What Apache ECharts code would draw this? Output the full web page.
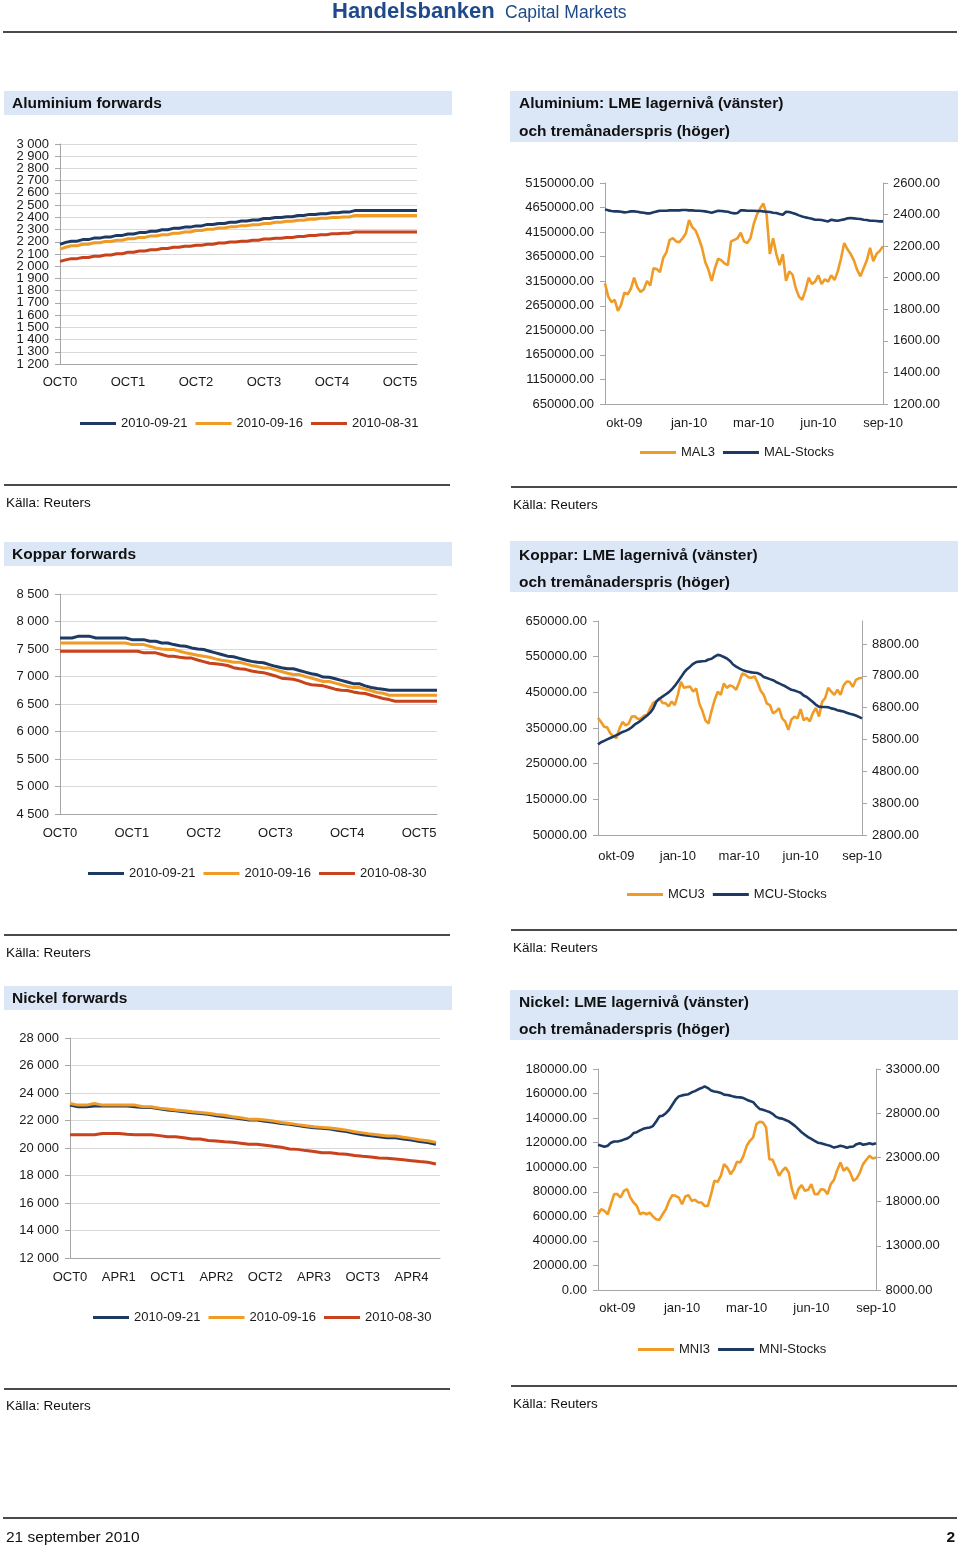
<!DOCTYPE html>
<html>
<head>
<meta charset="utf-8">
<script src="https://cdn.jsdelivr.net/npm/echarts@6/dist/echarts.min.js"></script>
<style>
html,body{margin:0;padding:0;background:#fff;}
#main{width:960px;height:1549px;}
</style>
</head>
<body>
<div id="main"></div>
<script>
// ---------------- DATA ----------------
const alFwdTicks = ['OCT0','OCT1','OCT2','OCT3','OCT4','OCT5'];
const alFwdYLabels = ['1 200','1 300','1 400','1 500','1 600','1 700','1 800','1 900','2 000','2 100','2 200','2 300','2 400','2 500','2 600','2 700','2 800','2 900','3 000'];
const alFwd0921 = [2178,2195,2205,2205,2218,2218,2230,2230,2240,2240,2252,2252,2264,2264,2275,2275,2286,2286,2298,2298,2310,2310,2320,2320,2330,2330,2342,2342,2350,2350,2360,2360,2370,2370,2378,2378,2390,2390,2398,2398,2405,2405,2415,2415,2424,2424,2430,2430,2438,2438,2443,2443,2455,2455,2455,2455,2455,2455,2455,2455,2455,2455,2455,2455];
const alFwd0916 = [2140,2155,2168,2168,2180,2180,2192,2192,2202,2202,2213,2213,2225,2225,2236,2236,2248,2248,2258,2258,2270,2270,2280,2280,2292,2292,2302,2302,2312,2312,2322,2322,2332,2332,2340,2340,2350,2350,2360,2360,2368,2368,2376,2376,2385,2385,2392,2392,2398,2398,2403,2403,2415,2415,2415,2415,2415,2415,2415,2415,2415,2415,2415,2415];
const alFwd0831 = [2040,2052,2062,2062,2072,2072,2082,2082,2092,2092,2102,2102,2115,2115,2125,2125,2135,2135,2145,2145,2155,2155,2163,2163,2172,2172,2180,2180,2190,2190,2198,2198,2205,2205,2212,2212,2222,2222,2228,2228,2235,2235,2243,2243,2252,2252,2258,2258,2265,2265,2270,2270,2280,2280,2280,2280,2280,2280,2280,2280,2280,2280,2280,2280];

const cuFwdTicks = ['OCT0','OCT1','OCT2','OCT3','OCT4','OCT5'];
const cuFwd0921 = [7700,7700,7700,7730,7730,7730,7700,7700,7700,7700,7700,7700,7670,7670,7670,7640,7640,7610,7610,7580,7560,7550,7520,7500,7490,7460,7430,7400,7370,7360,7330,7300,7275,7260,7250,7215,7185,7160,7140,7140,7110,7080,7050,7030,6990,6985,6960,6930,6900,6870,6870,6830,6800,6780,6770,6750,6750,6750,6750,6750,6750,6750,6750,6750];
const cuFwd0916 = [7610,7610,7610,7610,7610,7610,7610,7610,7610,7610,7610,7610,7580,7580,7580,7550,7520,7500,7490,7490,7460,7430,7410,7385,7370,7350,7320,7295,7280,7260,7260,7230,7200,7180,7155,7155,7120,7090,7060,7035,7035,7000,6970,6940,6910,6910,6880,6850,6820,6800,6800,6770,6740,6710,6695,6660,6660,6660,6660,6660,6660,6660,6660,6660];
const cuFwd0830 = [7460,7460,7460,7460,7460,7460,7460,7460,7460,7460,7460,7460,7460,7460,7430,7430,7430,7400,7370,7370,7350,7335,7335,7300,7270,7240,7230,7220,7200,7160,7140,7130,7100,7080,7070,7040,7010,6970,6960,6950,6920,6880,6850,6840,6830,6800,6770,6750,6745,6720,6700,6690,6660,6630,6600,6580,6550,6550,6550,6550,6550,6550,6550,6550];

const niFwdTicks = ['OCT0','APR1','OCT1','APR2','OCT2','APR3','OCT3','APR4'];
const niFwd0921 = [23120,23000,23000,23050,23050,23050,23050,23050,23000,22950,22950,22850,22760,22700,22640,22560,22510,22450,22350,22280,22200,22120,22030,22030,21940,21880,21780,21720,21630,21550,21480,21430,21380,21280,21200,21070,20970,20890,20820,20750,20750,20650,20580,20480,20400,20270];
const niFwd0916 = [23240,23120,23120,23240,23120,23120,23120,23120,23120,23000,23000,22900,22830,22760,22710,22640,22590,22520,22440,22380,22270,22200,22100,22100,22030,21960,21850,21790,21700,21620,21550,21500,21450,21380,21300,21180,21100,21010,20950,20870,20870,20780,20700,20600,20530,20410];
const niFwd0830 = [20970,20970,20970,20970,21060,21060,21060,21000,20970,20970,20970,20900,20820,20820,20740,20650,20650,20550,20510,20450,20410,20340,20270,20270,20200,20120,20050,19930,19900,19810,19750,19660,19660,19580,19540,19460,19400,19350,19270,19250,19200,19150,19080,19010,18960,18840];

const tsTicks = ['okt-09','jan-10','mar-10','jun-10','sep-10'];
const tsTickIdx = [6,26,46,66,86];

const alMAL3 = [1965,1880,1845,1860,1790,1830,1905,1895,1930,2000,1940,1910,1925,1980,1950,2060,2055,2035,2125,2160,2240,2250,2230,2225,2250,2280,2365,2320,2300,2250,2190,2100,2050,1980,2060,2120,2110,2090,2080,2230,2240,2250,2285,2230,2220,2250,2340,2400,2440,2470,2400,2150,2250,2150,2080,2150,1980,2040,2020,1935,1880,1860,1920,2000,1960,1975,2015,1960,1990,1975,2015,1985,2040,2120,2220,2180,2150,2110,2050,2010,2060,2110,2190,2105,2150,2170,2200];
const alStocks = [4613000,4593000,4579000,4572000,4572000,4566000,4552000,4559000,4572000,4572000,4566000,4552000,4545000,4532000,4532000,4552000,4572000,4586000,4586000,4586000,4593000,4593000,4593000,4593000,4600000,4600000,4593000,4593000,4586000,4586000,4579000,4572000,4559000,4545000,4566000,4586000,4579000,4572000,4566000,4545000,4532000,4538000,4593000,4593000,4586000,4586000,4586000,4579000,4579000,4572000,4566000,4559000,4545000,4538000,4518000,4504000,4566000,4559000,4538000,4518000,4491000,4470000,4450000,4436000,4423000,4402000,4402000,4396000,4382000,4368000,4402000,4389000,4382000,4396000,4409000,4430000,4436000,4430000,4423000,4416000,4402000,4396000,4382000,4382000,4375000,4368000,4368000];
const alStockTicks = [650000,1150000,1650000,2150000,2650000,3150000,3650000,4150000,4650000,5150000];
const alPriceTicks = [1200,1400,1600,1800,2000,2200,2400,2600];

const cuMCU3 = [6485,6350,6200,6180,5990,5900,5840,6150,6350,6240,6300,6520,6530,6440,6460,6550,6570,6780,6950,7000,7090,6950,6940,6840,6990,6880,7200,7610,7420,7450,7460,7300,7400,6930,6700,6400,6300,6700,7040,7300,7200,7560,7420,7500,7460,7360,7600,7870,7830,7750,7740,7780,7580,7330,7200,6930,6880,6620,6680,6780,6460,6360,6100,6420,6520,6460,6750,6400,6480,6370,6630,6790,6520,6980,7100,7420,7300,7200,7360,7200,7500,7620,7610,7450,7670,7720,7740];
const cuStocks = [304000,310000,314000,318000,322000,326000,330000,334000,339000,342000,346000,352000,360000,365000,371000,378000,385000,393000,405000,424000,432000,438000,444000,450000,458000,468000,480000,492000,505000,515000,522000,530000,535000,536000,537000,538000,542000,544000,550000,555000,553000,549000,545000,538000,528000,522000,517000,513000,510000,508000,506000,505000,504000,500000,493000,490000,487000,484000,479000,475000,471000,467000,462000,457000,455000,452000,449000,441000,437000,430000,423000,415000,410000,409000,409000,408000,405000,403000,400000,398000,396000,393000,390000,388000,385000,381000,377000];
const cuStockTicks = [50000,150000,250000,350000,450000,550000,650000];
const cuPriceTicks = [2800,3800,4800,5800,6800,7800,8800];

const niMNI3 = [16570,17140,16950,16570,17700,18840,18840,18460,19220,19410,18460,17900,17520,16570,16760,16570,16760,16310,16010,15930,16570,17140,18080,18730,18650,18460,17700,18570,18730,18080,18200,17900,17900,17520,17520,18840,20350,20240,20920,22240,21860,21110,21600,22500,22430,23180,24310,24880,25260,26770,27030,26960,26390,22800,22730,21860,20920,21480,21860,21290,19410,18270,19410,19860,19220,19330,19970,18840,18840,19410,19330,18840,19970,20460,21560,22430,21480,21860,21290,20350,20610,21290,22240,22730,23180,22880,23000];
const niStocks = [118300,117500,116600,117500,120000,121000,121000,121500,122500,123300,125000,127800,128500,130000,131300,132000,132400,133500,137300,141400,142000,144000,146800,150900,155000,157700,158500,159000,159500,161000,162000,163500,164500,165900,164500,162500,161700,161200,160500,159100,158800,158300,157500,157000,156900,156300,155000,154000,153000,150000,147500,146800,145900,145000,143500,141200,140000,139600,138500,137300,135500,133500,131000,128500,126400,124500,123000,121500,120000,119500,118800,118000,117200,116000,116700,117500,116900,115900,116600,116900,118800,119600,118300,118800,119600,118800,119600];
const niStockTicks = [0,20000,40000,60000,80000,100000,120000,140000,160000,180000];
const niPriceTicks = [8000,13000,18000,23000,28000,33000];

// ---------------- STYLE / BUILD ----------------
const F = "'Liberation Sans', Arial, Helvetica, sans-serif";
const NAVY = '#1d3a64', ORANGE = '#f09b26', RED = '#c8421c';
const AX = '#a6a6a6', TXT = '#1a1a1a', BOX = '#dbe7f6', RULE = '#4a4a4a';
const tsCategories = alMAL3.map((_, i) => String(i));

const lab = extra => Object.assign({color: TXT, fontSize: 13, fontFamily: F}, extra);
const spaced = v => String(v).replace(/\B(?=(\d{3})+(?!\d))/g, ' ');
const fixed2 = v => Number(v).toFixed(2);
const pairs = arr => arr.map((v, i) => [i, v]);

function fwdX(gi, max, interval, ticks, margin) {
  return {type: 'value', gridIndex: gi, min: 0, max: max, interval: interval,
    axisLine: {show: true, onZero: false, lineStyle: {color: AX}},
    axisTick: {show: false}, splitLine: {show: false},
    axisLabel: lab({margin: margin, showMinLabel: true, showMaxLabel: true,
      formatter: v => (v % interval === 0 && ticks[v / interval] !== undefined) ? ticks[v / interval] : ''})};
}
function fwdY(gi, min, max, interval, showLabels) {
  return {type: 'value', gridIndex: gi, min: min, max: max, interval: interval,
    axisLine: {show: true, lineStyle: {color: AX}},
    axisTick: {show: true, length: 5, lineStyle: {color: AX}},
    splitLine: {show: true, lineStyle: {color: '#d9d9d9', width: 1}},
    axisLabel: lab({show: showLabels, margin: 11, showMinLabel: true, showMaxLabel: true, formatter: spaced})};
}
function tsX(gi, margin) {
  return {type: 'category', gridIndex: gi, data: tsCategories, boundaryGap: false,
    axisLine: {show: true, onZero: false, lineStyle: {color: AX}},
    axisTick: {show: false}, splitLine: {show: false},
    axisLabel: lab({margin: margin, interval: i => tsTickIdx.indexOf(i) >= 0,
      formatter: (v, i) => tsTicks[tsTickIdx.indexOf(i)] || ''})};
}
function tsY(gi, pos, min, max, ticks, margin) {
  return {type: 'value', gridIndex: gi, position: pos, min: min, max: max,
    axisLine: {show: true, onZero: false, lineStyle: {color: AX}},
    axisTick: {show: true, length: 5, lineStyle: {color: AX}, customValues: ticks},
    splitLine: {show: false},
    axisLabel: lab({margin: margin, customValues: ticks, showMinLabel: true, showMaxLabel: true, formatter: fixed2})};
}
function line(name, color, xi, yi, data, width) {
  return {type: 'line', name: name, xAxisIndex: xi, yAxisIndex: yi, data: data, color: color,
    symbol: 'none', showSymbol: false, lineStyle: {color: color, width: width},
    itemStyle: {color: color}, animation: false, silent: true};
}
function legend(left, top, names) {
  return {left: left, top: top, padding: 0, itemGap: 8, itemWidth: 36, itemHeight: 3, icon: 'rect',
    selectedMode: false, textStyle: {color: TXT, fontSize: 13, fontFamily: F}, data: names};
}
function txt(text, x, y, font, extra) {
  return Object.assign({type: 'text', x: x, y: y, silent: true,
    style: {text: text, font: font, fill: '#111', align: 'left', verticalAlign: 'middle'}}, extra || {});
}
function rect(x, y, w, h) {
  return {type: 'rect', silent: true, shape: {x: x, y: y, width: w, height: h}, style: {fill: BOX}};
}
function rule(x1, y1, x2) {
  return {type: 'line', silent: true, shape: {x1: x1, y1: y1, x2: x2, y2: y1}, style: {stroke: RULE, lineWidth: 2}};
}

const TF = 'bold 15.5px ' + F;
const SF = '13.5px ' + F;

const graphics = [
  txt('Handelsbanken', 332, 12, 'bold 22px ' + F, {style: {text: 'Handelsbanken', font: 'bold 22px ' + F, fill: '#1e4a8c', align: 'left', verticalAlign: 'middle'}}),
  txt('Capital Markets', 505, 13.5, '17.5px ' + F, {style: {text: 'Capital Markets', font: '17.5px ' + F, fill: '#1e4a8c', align: 'left', verticalAlign: 'middle'}}),
  rule(3, 32, 957),
  rect(4, 91, 448, 24), rect(510, 91, 448, 51),
  rect(4, 542, 448, 24), rect(510, 541, 448, 51),
  rect(4, 986, 448, 24), rect(510, 990, 448, 50),
  txt('Aluminium forwards', 12, 104, TF),
  txt('Aluminium: LME lagernivå (vänster)', 519, 104, TF),
  txt('och tremånaderspris (höger)', 519, 131.5, TF),
  txt('Koppar forwards', 12, 555, TF),
  txt('Koppar: LME lagernivå (vänster)', 519, 555.5, TF),
  txt('och tremånaderspris (höger)', 519, 582.5, TF),
  txt('Nickel forwards', 12, 999, TF),
  txt('Nickel: LME lagernivå (vänster)', 519, 1003, TF),
  txt('och tremånaderspris (höger)', 519, 1030, TF),
  rule(4, 485, 450), rule(511, 487, 957),
  rule(4, 935, 450), rule(511, 930, 957),
  rule(4, 1389, 450), rule(511, 1386, 957),
  txt('Källa: Reuters', 6, 503, SF), txt('Källa: Reuters', 513, 505, SF),
  txt('Källa: Reuters', 6, 953, SF), txt('Källa: Reuters', 513, 948, SF),
  txt('Källa: Reuters', 6, 1406, SF), txt('Källa: Reuters', 513, 1404, SF),
  rule(3, 1518, 957),
  txt('21 september 2010', 6, 1538, '15.5px ' + F),
  txt('2', 955, 1538, 'bold 15.5px ' + F, {style: {text: '2', font: 'bold 15.5px ' + F, fill: '#111', align: 'right', verticalAlign: 'middle'}})
];

const option = {
  animation: false,
  backgroundColor: '#fff',
  grid: [
    {left: 60, top: 144, width: 357, height: 220},
    {left: 605, top: 183, width: 278, height: 221},
    {left: 60, top: 594, width: 377, height: 220},
    {left: 598, top: 621, width: 264, height: 214},
    {left: 70, top: 1038, width: 370, height: 220},
    {left: 598, top: 1069, width: 278, height: 221}
  ],
  xAxis: [
    fwdX(0, 63, 12, alFwdTicks, 11.5),
    tsX(1, 12.5),
    fwdX(2, 63, 12, cuFwdTicks, 12.5),
    tsX(3, 15),
    fwdX(4, 45.5, 6, niFwdTicks, 12.5),
    tsX(5, 12)
  ],
  yAxis: [
    fwdY(0, 1200, 3000, 100, false),
    tsY(1, 'left', 650000, 5150000, alStockTicks, 11),
    tsY(1, 'right', 1200, 2600, alPriceTicks, 10),
    fwdY(2, 4500, 8500, 500, true),
    tsY(3, 'left', 50000, 650000, cuStockTicks, 11),
    tsY(3, 'right', 2800, 9520, cuPriceTicks, 10),
    fwdY(4, 12000, 28000, 2000, true),
    tsY(5, 'left', 0, 180000, niStockTicks, 11),
    tsY(5, 'right', 8000, 33000, niPriceTicks, 9.5),
    // label-only axis for the densely labelled aluminium forwards scale
    {type: 'category', gridIndex: 0, position: 'left', data: alFwdYLabels, boundaryGap: false,
     axisLine: {show: false}, axisTick: {show: false}, splitLine: {show: false},
     axisLabel: lab({interval: 0, margin: 11})}
  ],
  legend: [
    legend(80, 417, ['2010-09-21', '2010-09-16', '2010-08-31']),
    legend(640, 446, ['MAL3', 'MAL-Stocks']),
    legend(88, 867, ['2010-09-21', '2010-09-16', '2010-08-30']),
    legend(627, 888, ['MCU3', 'MCU-Stocks']),
    legend(93, 1311, ['2010-09-21', '2010-09-16', '2010-08-30']),
    legend(638, 1343, ['MNI3', 'MNI-Stocks'])
  ],
  series: [
    line('2010-09-21', NAVY, 0, 0, pairs(alFwd0921), 3),
    line('2010-09-16', ORANGE, 0, 0, pairs(alFwd0916), 3),
    line('2010-08-31', RED, 0, 0, pairs(alFwd0831), 3),
    line('MAL3', ORANGE, 1, 2, alMAL3, 2.6),
    line('MAL-Stocks', NAVY, 1, 1, alStocks, 2.6),
    line('2010-09-21', NAVY, 2, 3, pairs(cuFwd0921), 3),
    line('2010-09-16', ORANGE, 2, 3, pairs(cuFwd0916), 3),
    line('2010-08-30', RED, 2, 3, pairs(cuFwd0830), 3),
    line('MCU3', ORANGE, 3, 5, cuMCU3, 2.6),
    line('MCU-Stocks', NAVY, 3, 4, cuStocks, 2.6),
    line('2010-09-21', NAVY, 4, 6, pairs(niFwd0921), 3),
    line('2010-09-16', ORANGE, 4, 6, pairs(niFwd0916), 3),
    line('2010-08-30', RED, 4, 6, pairs(niFwd0830), 3),
    line('MNI3', ORANGE, 5, 8, niMNI3, 2.6),
    line('MNI-Stocks', NAVY, 5, 7, niStocks, 2.6)
  ],
  graphic: {elements: graphics}
};

const chart = echarts.init(document.getElementById('main'), null, {renderer: 'canvas'});
chart.setOption(option);
</script>
</body>
</html>
